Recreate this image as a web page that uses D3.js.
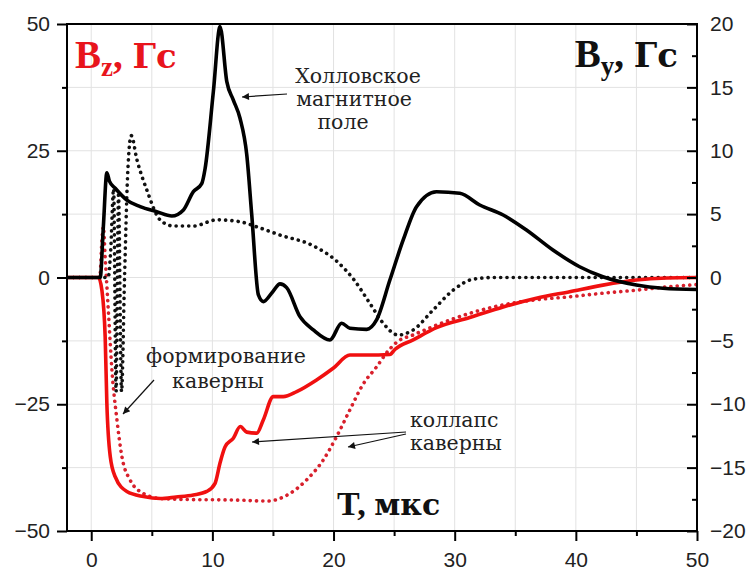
<!DOCTYPE html>
<html>
<head>
<meta charset="utf-8">
<script src="https://cdn.jsdelivr.net/npm/d3@7"></script>
<style>
  body { margin: 0; background: #fff; }
</style>
</head>
<body>
<div id="chart"></div>
<script>
// --- data ---
// black solid: By (right axis), Hall field
let hallT = [-2, 0.74, 1.0, 1.29, 1.5, 1.98, 2.94, 4.04, 5.41, 6.65, 7.61, 8.43, 9.12, 9.4, 10.08, 10.63, 11.19, 11.73, 12.28, 12.84, 13.25, 13.8, 14.2, 15.0, 15.58, 16.13, 17.23, 18.33, 19.7, 20.67, 21.35, 22.73, 23.55, 24.65, 25.75, 26.85, 28.5, 30.42, 32.07, 34, 35.92, 38.11, 40.31, 42.23, 44.99, 47.18, 50];
let hallBy = [0, 0, 4, 8.27, 7.6, 7.04, 6.11, 5.59, 5.19, 4.85, 5.33, 6.77, 7.4, 8.6, 14.66, 19.79, 15.45, 14.0, 12.56, 9.66, 4.93, -1.38, -1.9, -1.1, -0.5, -0.8, -3.09, -4.14, -4.93, -3.61, -4.0, -4.09, -3.35, -0.2, 2.96, 5.59, 6.77, 6.64, 5.72, 4.93, 3.75, 2.17, 0.85, 0.06, -0.59, -0.85, -0.95];

// black dotted: By (right axis), second probe
let dotT = [-2, 1.4, 1.6, 1.85, 2.05, 2.25, 2.5, 2.75, 3.0, 3.3, 3.77, 4.59, 5.69, 6.78, 8.43, 10.4, 12.28, 13.65, 15.58, 18.33, 20.25, 21.7, 23.0, 24.1, 25.33, 26.57, 28.22, 29.87, 31.5, 33.2, 50];
let dotBy = [0, 0, 2, 7, -9, 6.5, -9, 0, 8, 11.2, 9.3, 6.9, 4.54, 4.06, 4.06, 4.55, 4.4, 4.0, 3.35, 2.5, 1.3, -0.2, -2.04, -3.61, -4.54, -4.14, -2.56, -1.0, -0.14, 0, 0];

// red solid: Bz (left axis)
let bzT = [-2, 0.6, 0.88, 1.15, 1.29, 1.57, 1.98, 2.94, 4.31, 5.69, 7, 8.43, 9.54, 10.22, 10.63, 11.05, 11.73, 12.3, 12.84, 13.66, 14.2, 15.03, 15.85, 16.96, 18.6, 19.97, 21.35, 22.73, 24.65, 25.06, 26.57, 28.5, 31.24, 34, 36.74, 39.49, 42.23, 44.99, 47.5, 50];
let bzV = [0, 0, -2.5, -11.7, -24.8, -35.3, -39.3, -42.2, -43.2, -43.6, -43.3, -42.9, -42.2, -40.6, -36.6, -33.4, -31.7, -29.4, -30.5, -30.7, -28.1, -23.5, -23.5, -22.5, -20.2, -17.9, -15.3, -15.3, -15.2, -14.2, -12.3, -9.9, -7.9, -5.8, -4.1, -2.8, -1.5, -0.5, -0.1, 0];

// red dotted: Bz (left axis), second probe
let bzDotT = [-2, 0.7, 0.9, 1.0, 1.15, 1.3, 1.45, 1.7, 2.12, 2.53, 3.2, 4.31, 5.69, 8, 12, 14.5, 16.4, 17.78, 19.15, 20.25, 21.35, 22.45, 23.5, 24.5, 25.3, 26.5, 28.5, 31.2, 34, 36.7, 39.5, 42.2, 45, 47.7, 50];
let bzDotV = [0, 0, 8, 10, 4, -2, -8, -18, -28, -35.3, -39.9, -42.6, -43.6, -43.8, -43.9, -44.1, -42.6, -39.9, -36, -31.4, -26.1, -21, -17.8, -14.5, -12.6, -11.4, -9.4, -7.1, -5.4, -4.4, -3.8, -3.1, -2.5, -1.8, -1.4];

let xTicks = [0, 10, 20, 30, 40, 50];
let xMinor = [5, 15, 25, 35, 45];
let leftTicks = [-50, -25, 0, 25, 50];
let leftMinor = [-37.5, -12.5, 12.5, 37.5];
let rightTicks = [-20, -15, -10, -5, 0, 5, 10, 15, 20];
let rightMinor = [-17.5, -12.5, -7.5, -2.5, 2.5, 7.5, 12.5, 17.5];

// --- layout ---
let W = 748, H = 573;
let plot = { left: 67, right: 697, top: 24, bottom: 531 };
let serif = "'Liberation Serif', 'DejaVu Serif', serif";
let cyr = "'DejaVu Serif', serif";
let sans = "'Liberation Sans', Arial, sans-serif";

let svg = d3.select("#chart").append("svg")
  .attr("width", W)
  .attr("height", H);

let x = d3.scaleLinear().domain([-2, 50]).range([plot.left, plot.right]);
let yL = d3.scaleLinear().domain([-50, 50]).range([plot.bottom, plot.top]);
let yR = d3.scaleLinear().domain([-20, 20]).range([plot.bottom, plot.top]);

// grid
let grid = svg.append("g").attr("class", "grid");
grid.selectAll("line.v")
  .data(xTicks.concat(xMinor).filter(d => d < 50))
  .enter().append("line")
  .attr("x1", d => x(d)).attr("x2", d => x(d))
  .attr("y1", plot.top).attr("y2", plot.bottom)
  .style("stroke", "#e2e2e2").style("stroke-width", 1);
grid.selectAll("line.h")
  .data(leftTicks.concat(leftMinor).filter(d => d > -50 && d < 50))
  .enter().append("line")
  .attr("x1", plot.left).attr("x2", plot.right)
  .attr("y1", d => yL(d)).attr("y2", d => yL(d))
  .style("stroke", "#e2e2e2").style("stroke-width", 1);

// clip
svg.append("clipPath").attr("id", "clip")
  .append("rect")
  .attr("x", plot.left).attr("y", plot.top - 4)
  .attr("width", plot.right - plot.left).attr("height", plot.bottom - plot.top + 4);

let lines = svg.append("g").attr("clip-path", "url(#clip)");

function addLine(ts, vs, yScale, color, width, dotted) {
  let pts = ts.map((t, i) => [t, vs[i]]);
  let gen = d3.line()
    .x(d => x(d[0]))
    .y(d => yScale(d[1]))
    .curve(d3.curveMonotoneX);
  let p = lines.append("path")
    .datum(pts)
    .attr("d", gen)
    .style("fill", "none")
    .style("stroke", color)
    .style("stroke-width", width)
    .style("stroke-linejoin", "round")
    .style("stroke-linecap", "round");
  if (dotted) p.style("stroke-dasharray", "0.1,6.2");
  return p;
}

addLine(bzDotT, bzDotV, yL, "#d8202c", 3.6, true);
addLine(dotT, dotBy, yR, "#111", 3.6, true);
addLine(bzT, bzV, yL, "#f01010", 3.6, false);
addLine(hallT, hallBy, yR, "#000", 3.6, false);

// frame
svg.append("rect")
  .attr("x", plot.left).attr("y", plot.top)
  .attr("width", plot.right - plot.left).attr("height", plot.bottom - plot.top)
  .style("fill", "none").style("stroke", "#000").style("stroke-width", 2);

// axes
let gLeft = svg.append("g").attr("transform", "translate(" + plot.left + ",0)")
  .call(d3.axisLeft(yL).tickValues(leftTicks).tickSize(10).tickPadding(7));
let gLeftMinor = svg.append("g").attr("transform", "translate(" + plot.left + ",0)")
  .call(d3.axisLeft(yL).tickValues(leftMinor).tickSize(5).tickFormat(""));
let gRight = svg.append("g").attr("transform", "translate(" + plot.right + ",0)")
  .call(d3.axisRight(yR).tickValues(rightTicks).tickSize(-10).tickPadding(13));
let gRightMinor = svg.append("g").attr("transform", "translate(" + plot.right + ",0)")
  .call(d3.axisRight(yR).tickValues(rightMinor).tickSize(-5).tickFormat(""));
let gBottom = svg.append("g").attr("transform", "translate(0," + plot.bottom + ")")
  .call(d3.axisBottom(x).tickValues(xTicks).tickSize(10).tickPadding(11));
let gBottomMinor = svg.append("g").attr("transform", "translate(0," + plot.bottom + ")")
  .call(d3.axisBottom(x).tickValues(xMinor).tickSize(5).tickFormat(""));

[gLeft, gLeftMinor, gRight, gRightMinor, gBottom, gBottomMinor].forEach(g => {
  g.select(".domain").remove();
  g.selectAll("line").style("stroke", "#000").style("stroke-width", 2);
  g.selectAll("text")
    .attr("font-family", sans)
    .style("font-family", sans)
    .style("font-size", "21px")
    .style("fill", "#222");
});
gRight.selectAll("text").attr("text-anchor", "start");

// big labels
let bz = svg.append("text")
  .attr("x", 75).attr("y", 68)
  .style("font-family", serif).style("font-weight", "bold")
  .style("font-size", "39px").style("fill", "#e8141c");
bz.append("tspan").text("B");
bz.append("tspan").attr("dy", 8).style("font-size", "27px").text("z");
bz.append("tspan").attr("dy", -8).text(", ");
bz.append("tspan").style("font-family", cyr).style("font-size", "34px").text("Гс");

let by = svg.append("text")
  .attr("x", 678).attr("y", 67)
  .attr("text-anchor", "end")
  .style("font-family", serif).style("font-weight", "bold")
  .style("font-size", "39px").style("fill", "#111");
by.append("tspan").text("B");
by.append("tspan").attr("dy", 8).style("font-size", "27px").text("y");
by.append("tspan").attr("dy", -8).text(", ");
by.append("tspan").style("font-family", cyr).style("font-size", "34px").text("Гс");

let tl = svg.append("text")
  .attr("x", 337).attr("y", 515)
  .style("font-family", serif).style("font-weight", "bold")
  .style("font-size", "34px").style("fill", "#111");
tl.append("tspan").text("T, ");
tl.append("tspan").style("font-family", cyr).style("font-size", "30px").text("мкс");

// annotations
let marker = svg.append("defs").append("marker")
  .attr("id", "arrow")
  .attr("viewBox", "0 0 10 10")
  .attr("refX", 10).attr("refY", 5)
  .attr("markerWidth", 10).attr("markerHeight", 7)
  .attr("markerUnits", "userSpaceOnUse")
  .attr("orient", "auto");
marker.append("path").attr("d", "M0,0 L10,5 L0,10 Z").style("fill", "#111");

function arrow(x1, y1, x2, y2) {
  svg.append("line")
    .attr("x1", x1).attr("y1", y1).attr("x2", x2).attr("y2", y2)
    .style("stroke", "#111").style("stroke-width", 1.2)
    .attr("marker-end", "url(#arrow)");
}

function annText(rows, xs, y0, step, anchor) {
  rows.forEach((s, i) => {
    svg.append("text")
      .attr("x", xs[i]).attr("y", y0 + i * step)
      .attr("text-anchor", anchor)
      .style("font-family", cyr)
      .style("font-size", "20.5px")
      .style("fill", "#222")
      .text(s);
  });
}

annText(["Холловское", "магнитное", "поле"], [358, 354, 343], 83, 23, "middle");
arrow(287, 94, 242, 97);

annText(["формирование", "каверны"], [226, 218], 363, 25, "middle");
arrow(154, 380, 123, 414);

annText(["коллапс", "каверны"], [410, 410], 427, 23, "start");
arrow(406, 432, 252, 442);
arrow(406, 434, 348, 447);
</script>
</body>
</html>
